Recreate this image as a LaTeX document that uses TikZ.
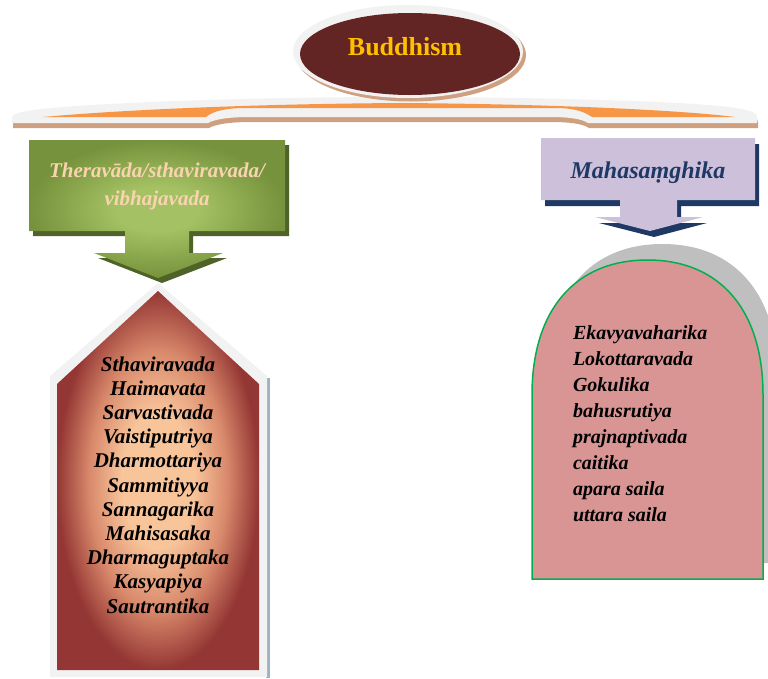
\documentclass[tikz,border=0pt]{standalone}
\usepackage{fontspec}
\setmainfont{Liberation Serif}
\definecolor{ringgray}{HTML}{F2F2F2}
\definecolor{tan}{HTML}{CFA080}
\definecolor{maroon}{HTML}{632523}
\definecolor{gold}{HTML}{FFC000}
\definecolor{orangeband}{HTML}{F79646}
\definecolor{greenedge}{HTML}{76923C}
\definecolor{greenmid}{HTML}{A4C263}
\definecolor{greenshadow}{HTML}{4F6228}
\definecolor{peachtext}{HTML}{FAD3B0}
\definecolor{lavender}{HTML}{CCC0DA}
\definecolor{navy}{HTML}{1F3864}
\definecolor{redout}{HTML}{943634}
\definecolor{peach}{HTML}{F8C49A}
\definecolor{peachmid}{HTML}{D98A6C}
\definecolor{bluegray}{HTML}{9DB3C4}
\definecolor{pinkfill}{HTML}{D99594}
\definecolor{archgreen}{HTML}{00B050}
\definecolor{shadowgray}{HTML}{BFBFBF}
\pgfdeclareradialshading{pentshade}{\pgfpoint{0bp}{0bp}}{color(0bp)=(peach); color(9bp)=(peach); color(17bp)=(peachmid); color(25bp)=(redout); color(50bp)=(redout)}
\pgfdeclareradialshading{greenshade}{\pgfpoint{0bp}{0bp}}{color(0bp)=(greenmid); color(8bp)=(greenmid); color(25bp)=(greenedge); color(50bp)=(greenedge)}
\begin{document}
\begin{tikzpicture}[x=1pt,y=-1pt,
  listfont/.style={font=\fontsize{21}{24.2}\selectfont\bfseries\itshape},
  rlistfont/.style={font=\fontsize{20}{26}\selectfont\bfseries\itshape},
  every node/.style={inner sep=0pt, outer sep=0pt}]
\useasboundingbox (0,0) rectangle (768,678);

% top bar
\def\barpath{(12,117) .. controls (12,110) and (60,106) .. (150,102) .. controls (250,98) and (330,97) .. (400,97) .. controls (470,97) and (560,98) .. (660,102) .. controls (740,106) and (757,110) .. (757,117) -- (757,123) -- (588,123) .. controls (582,119) and (570,117) .. (550,117) -- (250,117) .. controls (230,117) and (215,119) .. (208,123) -- (12,123) -- cycle}
\fill[tan, shift={(1,5)}] \barpath;
\fill[ringgray] \barpath;
\fill[orangeband] (43,117) .. controls (120,110) and (250,104) .. (400,103) .. controls (550,104) and (680,110) .. (735,117) -- (592,117) .. controls (582,110) and (570,108) .. (555,108) -- (245,108) .. controls (230,108) and (214,110) .. (206,117) -- cycle;

% Buddhism ellipse
\fill[tan] (411,55) ellipse (115 and 46.5);
\fill[ringgray] (408,51.5) ellipse (115 and 46.5);
\fill[maroon] (410,54) ellipse (110 and 41);
\node[font=\fontsize{26}{30}\selectfont\bfseries, text=gold, anchor=base] (buddhism) at (405,55) {Buddhism};

% left callout
\def\leftcallout{(29,140) -- (285,140) -- (285,231) -- (189,231) -- (189,253) -- (223,253) -- (158,278) -- (94,253) -- (125,253) -- (125,231) -- (29,231) -- cycle}
\fill[greenshadow, shift={(4,5)}] \leftcallout;
\shade[shading=greenshade] \leftcallout;
\node[font=\fontsize{21}{28}\selectfont\bfseries\itshape, text=peachtext, align=center, anchor=north] (thera) at (157,162.5) {Theravāda/sthaviravada/\\vibhajavada};

% right callout
\def\rightcallout{(541,138) -- (755,138) -- (755,200) -- (677,200) -- (677,217) -- (703,217) -- (650,231) -- (595,217) -- (620,217) -- (620,200) -- (541,200) -- cycle}
\fill[navy, shift={(4,6)}] \rightcallout;
\fill[lavender] \rightcallout;
\node[font=\fontsize{24}{28}\selectfont\bfseries\itshape, text=navy, anchor=base] (maha) at (648,178) {Mahasaṃghika};

% left pentagon
\fill[bluegray] (266,378) rectangle (270,678);
\fill[ringgray] (158,283) -- (267,376) -- (267,677) -- (50,677) -- (50,376) -- cycle;
\shade[shading=pentshade] (158,291) -- (259,384) -- (259,670) -- (57,670) -- (57,384) -- cycle;
\node[listfont, align=center, anchor=north] (leftlist) at (158,356.5) {Sthaviravada\\Haimavata\\Sarvastivada\\Vaistiputriya\\Dharmottariya\\Sammitiyya\\Sannagarika\\Mahisasaka\\Dharmaguptaka\\Kasyapiya\\Sautrantika};

% right arch
\def\archpath{(532,579) -- (532,395) .. controls (532,310) and (575,260) .. (647.5,260) .. controls (720,260) and (763,310) .. (763,395) -- (763,579) -- cycle}
\begin{scope}
\clip (0,0) rectangle (768,678);
\fill[shadowgray, shift={(15,-16)}] \archpath;
\end{scope}
\filldraw[fill=pinkfill, draw=archgreen, line width=1.5pt] \archpath;
\node[rlistfont, align=left, anchor=north west] (rightlist) at (573,326) {Ekavyavaharika\\Lokottaravada\\Gokulika\\bahusrutiya\\prajnaptivada\\caitika\\apara saila\\uttara saila};
\end{tikzpicture}
\end{document}
